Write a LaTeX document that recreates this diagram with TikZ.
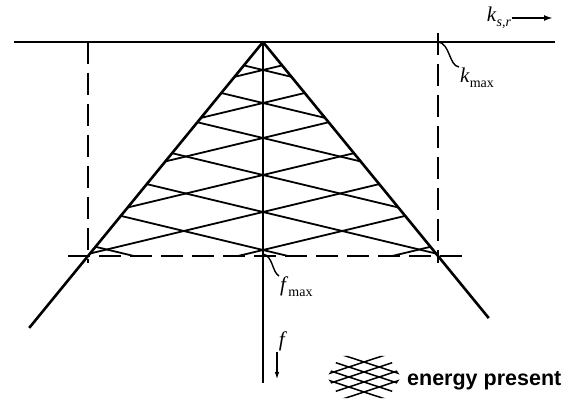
\documentclass[tikz,border=0pt]{standalone}
\usepackage{fontspec}
\newfontfamily\legendfont{Liberation Sans}
\newfontfamily\labelfont{Liberation Serif}
\usetikzlibrary{arrows.meta,calc}
% italic symbol with a subscript, set in the label font
\newcommand{\symsub}[3]{\textit{#1}\raisebox{-5pt}{\fontsize{14}{14}\selectfont#2#3}}

\begin{document}
\begin{tikzpicture}[x=1pt, y=-1pt,
    axisline/.style={line width=2.3pt},
    sideline/.style={line width=2.6pt},
    guideline/.style={line width=1.9pt, dash pattern=on 22pt off 9pt},
    hatchline/.style={line width=1.8pt},
    leader/.style={line width=1.4pt},
    every node/.style={font=\labelfont\fontsize{21}{24}\selectfont, inner sep=1pt}]
  \useasboundingbox (0,0) rectangle (582,401);
  \coordinate (apex) at (263,42);
  \coordinate (lcorner) at (88,256);
  \coordinate (rcorner) at (438,256);
  \coordinate (kcross) at (438,42);
  \coordinate (fcross) at (263,254);
  % wavenumber axis
  \draw[axisline] (14,42) -- (555,42);
  % frequency axis
  \draw[line width=1.7pt] (apex) -- (263,383);
  % energy hatching inside the cone
  \begin{scope}
    \clip (apex) -- (lcorner) -- (rcorner) -- cycle;
    \foreach \c in {70,103,138,175,212,250,287} {
      \draw[hatchline] (60,{\c-0.24*203}) -- (470,{\c+0.24*207});
      \draw[hatchline] (60,{\c+0.24*203}) -- (470,{\c-0.24*207});
    }
  \end{scope}
  % cone edges
  \draw[sideline] (apex) -- ($(apex)!1.336!(lcorner)$);
  \draw[sideline] (apex) -- ($(apex)!1.29!(rcorner)$);
  % limits
  \draw[guideline] (88,42) -- (88,263);
  \draw[guideline] (438,33) -- (438,263);
  \draw[guideline] (68,256) -- (462,256);
  % Labels
  \node (ksr) at (499,18) {\symsub{k}{\itshape}{s,r}};
  \draw[line width=2.2pt, -{Latex[length=9pt,width=6pt]}] (ksr.east) -- (553,18);
  \node[anchor=north west] (kmax) at (459,67) {\symsub{k}{}{max}};
  \draw[leader] (kcross) .. controls (450,43) and (449,66) .. (kmax.north west);
  \node[anchor=north west] (fmax) at (279,276) {\symsub{f}{}{max}};
  \draw[leader] (fcross) .. controls (273,256) and (272,272) .. (fmax.north west);
  \node (flab) at (283,341) {\textit{f}};
  \draw[line width=1.6pt, -{Latex[length=8pt,width=4.5pt]}] (277,352) -- (277,380);
  % legend
  \begin{scope}
    \clip (327,377) -- (340,356) -- (388,356) -- (401,377) -- (388,398) -- (340,398) -- cycle;
    \foreach \c in {-15,-5,5,15} {
      \draw[hatchline, line width=1.5pt] (320,{377+\c-0.33*44}) -- (408,{377+\c+0.33*44});
      \draw[hatchline, line width=1.5pt] (320,{377+\c+0.33*44}) -- (408,{377+\c-0.33*44});
    }
  \end{scope}
  \node[anchor=west, font=\legendfont\bfseries\fontsize{21.5}{25}\selectfont] (legend) at (406,381) {energy present};
\end{tikzpicture}
\end{document}
